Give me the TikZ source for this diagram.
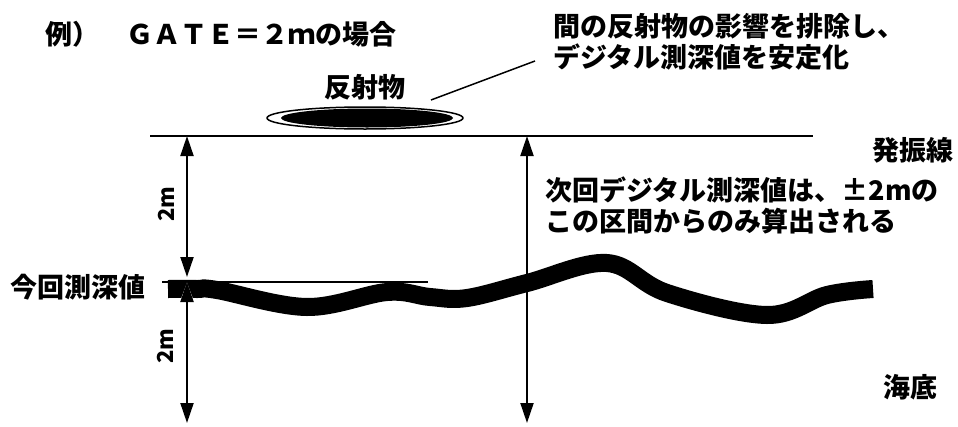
\documentclass[tikz,border=0pt]{standalone}
\usepackage{fontspec}
\newfontfamily\jpfont{Noto Sans CJK JP}
\usetikzlibrary{arrows.meta}
\tikzset{
  lbl/.style={font=\jpfont\bfseries\fontsize{27}{31}\selectfont, inner sep=0pt},
  dimline/.style={arrows={Triangle[length=20pt,width=13pt]-Triangle[length=20pt,width=13pt]}, line width=2pt},
  halo/.style={preaction={draw=white, line width=4pt}},
}
\begin{document}
\begin{tikzpicture}[x=1pt,y=-1pt]
  \useasboundingbox (0,0) rectangle (958,426);
  % texts
  \node[lbl, anchor=west] (title) at (45,34) {例）　ＧＡＴＥ＝２ｍの場合};
  \node[lbl] (refl) at (365,87) {反射物};
  \node[lbl, anchor=west, align=left] (note) at (553,42) {間の反射物の影響を排除し、\\デジタル測深値を安定化};
  \node[lbl] (shot) at (913,150) {発振線};
  \node[lbl, anchor=west, align=left] (next) at (545,205) {次回デジタル測深値は、±2mの\\この区間からのみ算出される};
  \node[lbl, anchor=west] (cur) at (10,287) {今回測深値};
  \node[lbl] (bed) at (910,387) {海底};
  \node[lbl, rotate=90, font=\jpfont\bfseries\fontsize{22}{26}\selectfont] (d1) at (166,204) {2m};
  \node[lbl, rotate=90, font=\jpfont\bfseries\fontsize{22}{26}\selectfont] (d2) at (165,346) {2m};
  % reflector
  \draw[line width=1.5pt] (365,118) ellipse [x radius=98pt, y radius=11pt];
  \fill (367,118) ellipse [x radius=86pt, y radius=9.5pt];
  \coordinate (ldA) at (431,100);
  \coordinate (ldB) at (535,61);
  \draw[line width=1.5pt] (ldA) -- (ldB);
  % shot line
  \coordinate (shotL) at (150,136);
  \coordinate (shotR) at (813,136);
  \draw[line width=2.2pt] (shotL) -- (shotR);
  % gate arrows
  \coordinate (a1) at (187,136);
  \coordinate (a2) at (187,277);
  \coordinate (a3) at (187,282);
  \coordinate (a4) at (187,423);
  \coordinate (b1) at (527,136);
  \coordinate (b2) at (527,423);
  \draw[dimline] (b1) -- (b2);
  % sea bottom
  \draw[line width=18pt] plot[smooth, tension=0.6] coordinates {(168,289) (197,289) (217,290) (307,307) (387,292) (430,297) (467,298) (527,283) (607,263) (667,293) (767,315) (827,295) (873,289)};
  \coordinate (curL) at (162,282);
  \coordinate (curR) at (428,282);
  \draw[line width=1.3pt] (curL) -- (curR);
  \draw[dimline, halo] (a1) -- (a2);
  \draw[dimline, halo] (a3) -- (a4);
\end{tikzpicture}
\end{document}
